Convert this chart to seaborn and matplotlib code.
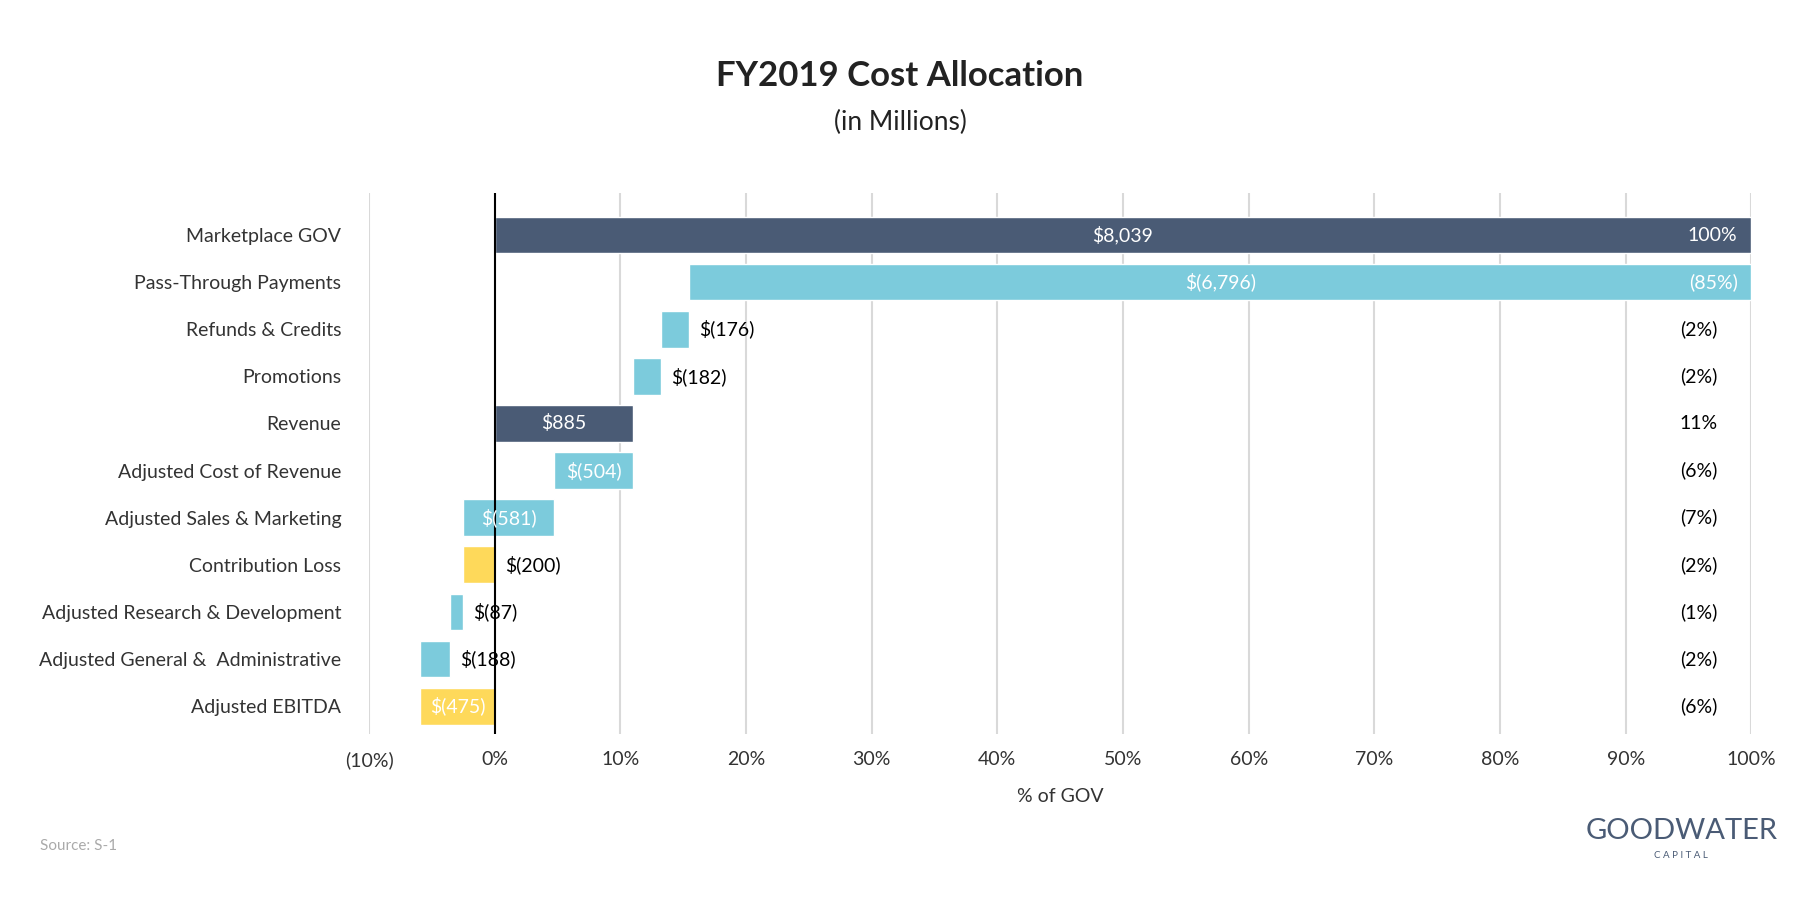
import matplotlib.pyplot as plt
import seaborn as sns
import pandas as pd

categories = ["Marketplace GOV", "Pass-Through Payments", "Refunds & Credits", "Promotions",
              "Revenue", "Adjusted Cost of Revenue", "Adjusted Sales & Marketing",
              "Contribution Loss", "Adjusted Research & Development",
              "Adjusted General &  Administrative", "Adjusted EBITDA"]
# dollar amounts in millions (negative = cost)
amounts = [8039, -6796, -176, -182, 885, -504, -581, -200, -87, -188, -475]
kinds = ["total", "step", "step", "step", "total", "step", "step", "total", "step", "step", "total"]
value_labels = ["$8,039", "$(6,796)", "$(176)", "$(182)", "$885", "$(504)", "$(581)",
                "$(200)", "$(87)", "$(188)", "$(475)"]
pct_labels = ["100%", "(85%)", "(2%)", "(2%)", "11%", "(6%)", "(7%)", "(2%)", "(1%)", "(2%)", "(6%)"]
label_inside = [True, True, False, False, True, True, True, False, False, False, True]

DARK, LIGHT, YELLOW = "#4a5b75", "#7ccbdc", "#fed95a"

gov = amounts[0]
starts, ends, colors = [], [], []
level = 0.0
for amt, kind in zip(amounts, kinds):
    pct = amt / gov * 100
    if kind == "total":
        start, end = 0.0, pct
        level = pct
        colors.append(DARK if pct > 0 else YELLOW)
    else:
        start, end = level, level + pct
        level = end
        colors.append(LIGHT)
    starts.append(min(start, end))
    ends.append(max(start, end))

df = pd.DataFrame({"category": categories, "left": starts, "width": [e - s for s, e in zip(starts, ends)]})

sns.set_style("white")
plt.rcParams['font.family'] = ['Lato', 'DejaVu Sans']

fig = plt.figure(figsize=(18, 9), dpi=100)
ax = fig.add_axes([0.205, 0.184, 0.768, 0.602])

ax.barh(df["category"], df["width"], left=df["left"], color=colors, height=0.78, zorder=3)
ax.set_ylim(len(categories) - 0.4, -0.9)
ax.set_xlim(-10, 100)
ax.set_xticks(range(-10, 101, 10))
ax.set_xticklabels(["(10%)"] + [f"{t}%" for t in range(0, 101, 10)], fontsize=14, color="#333333")
for t in range(-10, 101, 10):
    if t != 0:
        ax.axvline(t, color="#d9d9d9", lw=1.5, zorder=1)
ax.axvline(0, color="black", lw=1.5, zorder=4)
for s in ax.spines.values():
    s.set_visible(False)
ax.tick_params(axis="both", length=0, pad=12)
ax.tick_params(axis="y", labelsize=14, labelcolor="#333333", pad=20)
ax.set_xlabel("% of GOV", fontsize=14, color="#333333", labelpad=14)

for i, row in df.iterrows():
    if label_inside[i]:
        ax.text(row["left"] + row["width"] / 2, i, value_labels[i], ha="center", va="center",
                color="white", fontsize=14, zorder=5)
    else:
        ax.text(row["left"] + row["width"] + 0.8, i, value_labels[i], ha="left", va="center",
                color="black", fontsize=14, zorder=5)
    if i < 2:
        ax.text(98.9, i, pct_labels[i], ha="right", va="center", color="white", fontsize=14, zorder=5)
    else:
        ax.text(95.8, i, pct_labels[i], ha="center", va="center", color="black", fontsize=14, zorder=5)

fig.text(0.5, 0.905, "FY2019 Cost Allocation", ha="center", fontsize=25, fontweight="bold", color="#222222")
fig.text(0.5, 0.855, "(in Millions)", ha="center", fontsize=19, color="#222222")
fig.text(0.022, 0.055, "Source: S-1", fontsize=11, color="#aaaaaa")
fig.text(0.934, 0.068, "GOODWATER", ha="center", fontsize=21, color="#4a5b75")
fig.text(0.934, 0.047, "C A P I T A L", ha="center", fontsize=7, color="#4a5b75")

fig.savefig("out.png", dpi=100)
